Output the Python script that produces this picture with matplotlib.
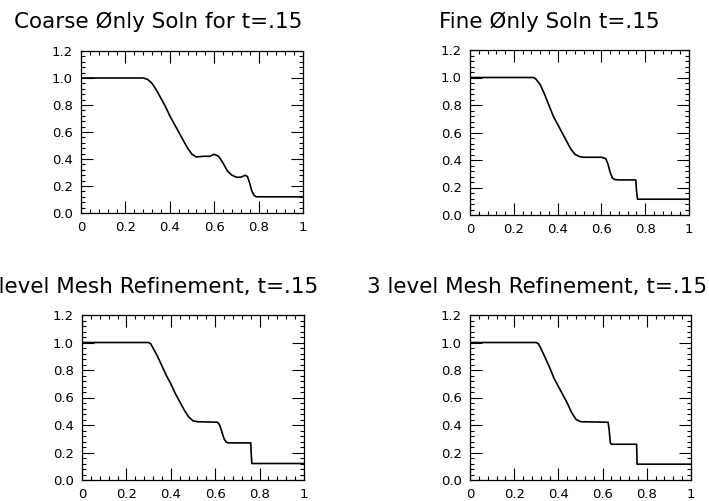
import matplotlib
matplotlib.use("Agg")
import matplotlib.pyplot as plt
from matplotlib.ticker import MultipleLocator, FixedLocator, FixedFormatter

plt.rcParams['font.family'] = ['DejaVu Sans']

# ---- data ----
coarse_x = [0, 0.26, 0.28, 0.30, 0.32, 0.34, 0.36, 0.38, 0.40, 0.42, 0.44, 0.46, 0.48, 0.50,
            0.52, 0.55, 0.58, 0.60, 0.62, 0.64, 0.66, 0.68, 0.70, 0.72, 0.74, 0.75, 0.76,
            0.77, 0.78, 0.79, 0.80, 1.0]
coarse_y = [1.0, 1.0, 1.0, 0.99, 0.96, 0.91, 0.85, 0.79, 0.72, 0.66, 0.60, 0.54, 0.48, 0.435,
            0.415, 0.42, 0.42, 0.435, 0.42, 0.37, 0.31, 0.28, 0.265, 0.265, 0.28, 0.27, 0.22,
            0.16, 0.13, 0.12, 0.12, 0.12]

fine_x = [0, 0.28, 0.29, 0.30, 0.32, 0.34, 0.36, 0.38, 0.40, 0.42, 0.44, 0.46, 0.48, 0.50,
          0.52, 0.60, 0.62, 0.63, 0.64, 0.65, 0.66, 0.68, 0.757, 0.760, 0.765, 1.0]
fine_y = [1.0, 1.0, 1.0, 0.99, 0.95, 0.88, 0.80, 0.72, 0.66, 0.60, 0.54, 0.48, 0.44, 0.425,
          0.42, 0.42, 0.41, 0.37, 0.31, 0.27, 0.258, 0.255, 0.255, 0.18, 0.115, 0.115]

lvl2_x = [0, 0.30, 0.31, 0.32, 0.34, 0.36, 0.38, 0.40, 0.42, 0.44, 0.46, 0.48, 0.50, 0.52,
          0.61, 0.62, 0.63, 0.64, 0.65, 0.66, 0.76, 0.762, 0.765, 1.0]
lvl2_y = [1.0, 1.0, 0.99, 0.96, 0.90, 0.83, 0.76, 0.70, 0.63, 0.57, 0.51, 0.46, 0.43, 0.424,
          0.42, 0.40, 0.35, 0.30, 0.275, 0.27, 0.27, 0.20, 0.12, 0.12]

lvl3_x = [0, 0.30, 0.31, 0.32, 0.34, 0.36, 0.38, 0.40, 0.42, 0.44, 0.46, 0.48, 0.50, 0.625,
          0.63, 0.635, 0.64, 0.754, 0.756, 1.0]
lvl3_y = [1.0, 1.0, 0.99, 0.96, 0.89, 0.82, 0.74, 0.68, 0.62, 0.56, 0.49, 0.44, 0.424, 0.42,
          0.36, 0.27, 0.26, 0.26, 0.115, 0.115]

titles = ["Coarse \u00d8nly Soln for t=.15",
          "Fine \u00d8nly Soln t=.15",
          "2 level Mesh Refinement, t=.15",
          "3 level Mesh Refinement, t=.15"]

x_ticks = [0, 0.2, 0.4, 0.6, 0.8, 1.0]
x_tick_labels = ["0", "0.2", "0.4", "0.6", "0.8", "1"]
y_ticks = [0.0, 0.2, 0.4, 0.6, 0.8, 1.0, 1.2]
y_tick_labels = ["0.0", "0.2", "0.4", "0.6", "0.8", "1.0", "1.2"]

series = [(coarse_x, coarse_y), (fine_x, fine_y), (lvl2_x, lvl2_y), (lvl3_x, lvl3_y)]

W, H = 709, 501
fig = plt.figure(figsize=(W / 100, H / 100), dpi=100)

# axes boxes in pixels: left, top, right, bottom
boxes = [(81, 51, 303, 213), (470, 50, 689, 215), (82, 315, 304, 480), (470, 315, 691, 480)]
# title centers in pixels (x, y)
title_pos = [(158, 22), (549, 22), (148, 287), (537, 287)]

for (sx, sy), (l, t, r, b), title, (tx, ty) in zip(series, boxes, titles, title_pos):
    ax = fig.add_axes([l / W, 1 - b / H, (r - l) / W, (b - t) / H])
    ax.plot(sx, sy, color='black', lw=1.2)
    ax.set_xlim(0, 1)
    ax.set_ylim(0, 1.2)
    ax.xaxis.set_major_locator(FixedLocator(x_ticks))
    ax.xaxis.set_major_formatter(FixedFormatter(x_tick_labels))
    ax.yaxis.set_major_locator(FixedLocator(y_ticks))
    ax.yaxis.set_major_formatter(FixedFormatter(y_tick_labels))
    ax.xaxis.set_minor_locator(MultipleLocator(0.04))
    ax.yaxis.set_minor_locator(MultipleLocator(0.04))
    ax.tick_params(which='both', direction='in', top=True, right=True, width=0.8,
                   colors='black', labelsize=9.5)
    ax.tick_params(which='major', length=8.5)
    ax.tick_params(axis='x', which='major', pad=6)
    ax.tick_params(axis='y', which='major', pad=6)
    ax.tick_params(which='minor', length=3)
    for sp in ax.spines.values():
        sp.set_linewidth(0.9)
    fig.text(tx / W, 1 - ty / H, title, ha='center', va='center', fontsize=15.5,
             color='black')

fig.savefig("out.png", dpi=100)
